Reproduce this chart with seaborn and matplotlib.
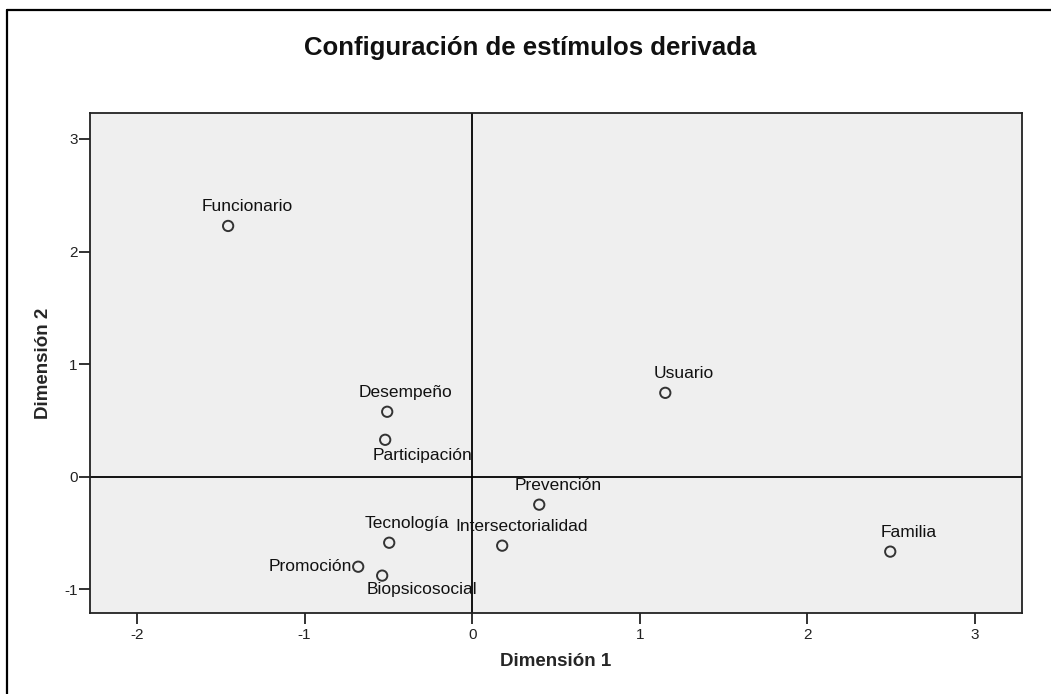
import matplotlib
matplotlib.use("Agg")
import matplotlib.pyplot as plt
import seaborn as sns
import pandas as pd

stimuli = ["Funcionario", "Desempeño", "Participación", "Usuario", "Prevención",
           "Intersectorialidad", "Tecnología", "Promoción", "Biopsicosocial", "Familia"]
dim1 = [-1.456, -0.507, -0.519, 1.152, 0.400, 0.179, -0.495, -0.680, -0.537, 2.494]
dim2 = [2.227, 0.577, 0.328, 0.745, -0.248, -0.612, -0.586, -0.799, -0.878, -0.665]

# label offsets in pixels (dx, dy, ha)
label_pos = {
    "Funcionario": (19, 19, "center"),
    "Desempeño": (18, 19, "center"),
    "Participación": (37, -16, "center"),
    "Usuario": (18, 19, "center"),
    "Prevención": (19, 19, "center"),
    "Intersectorialidad": (19, 19, "center"),
    "Tecnología": (18, 19, "center"),
    "Promoción": (-6, 0, "right"),
    "Biopsicosocial": (40, -14, "center"),
    "Familia": (18, 19, "center"),
}

df = pd.DataFrame({"stim": stimuli, "d1": dim1, "d2": dim2})

sns.set_style("white")
plt.rcParams["font.family"] = ["Liberation Sans", "DejaVu Sans"]
plt.rcParams["axes.unicode_minus"] = False

W, H = 1051, 694
fig = plt.figure(figsize=(W / 100, H / 100), dpi=100)
ax = fig.add_axes([90 / W, 1 - 613 / H, (1022 - 90) / W, (613 - 113) / H])
ax.set_facecolor("#efefef")

ax.axhline(0, color="black", lw=1.3, zorder=1)
ax.axvline(0, color="black", lw=1.3, zorder=1)

sns.scatterplot(data=df, x="d1", y="d2", ax=ax, marker="o", s=55,
                facecolor="none", edgecolor="#333333", linewidth=1.4, zorder=3)

for name, x, y in zip(stimuli, dim1, dim2):
    dx, dy, ha = label_pos[name]
    ax.annotate(name, (x, y), xytext=(dx, dy), textcoords="offset pixels",
                ha=ha, va="center", fontsize=12.5, color="#111111", zorder=4)

ax.set_xlim(-2.28, 3.28)
ax.set_ylim(-1.21, 3.23)
ax.set_xticks([-2, -1, 0, 1, 2, 3])
ax.set_yticks([-1, 0, 1, 2, 3])
ax.tick_params(axis="both", direction="out", length=8, width=1.3, color="#222222",
               labelsize=11, labelcolor="#222222", bottom=True, left=True)
ax.tick_params(axis="x", pad=3)
ax.tick_params(axis="y", pad=1)
for sp in ax.spines.values():
    sp.set_color("#222222")
    sp.set_linewidth(1.3)

ax.set_xlabel("Dimensión 1", fontsize=13.5, fontweight="bold", va="center")
ax.xaxis.set_label_coords(0.5, (613 - 662) / 500)
ax.set_ylabel("Dimensión 2", fontsize=13.5, fontweight="bold", va="center")
ax.yaxis.set_label_coords((43 - 90) / 932, 0.5)

fig.text(530 / W, 1 - 55 / H, "Configuración de estímulos derivada",
         ha="center", va="baseline", fontsize=18.5, fontweight="bold", color="#111111")

# outer frame like the SPSS output
fig.add_artist(plt.Line2D([7 / W, 7 / W], [0, 1 - 10 / H], color="black", lw=1.6))
fig.add_artist(plt.Line2D([7 / W, 1], [1 - 10 / H, 1 - 10 / H], color="black", lw=1.6))

fig.savefig("out.png", dpi=100)
